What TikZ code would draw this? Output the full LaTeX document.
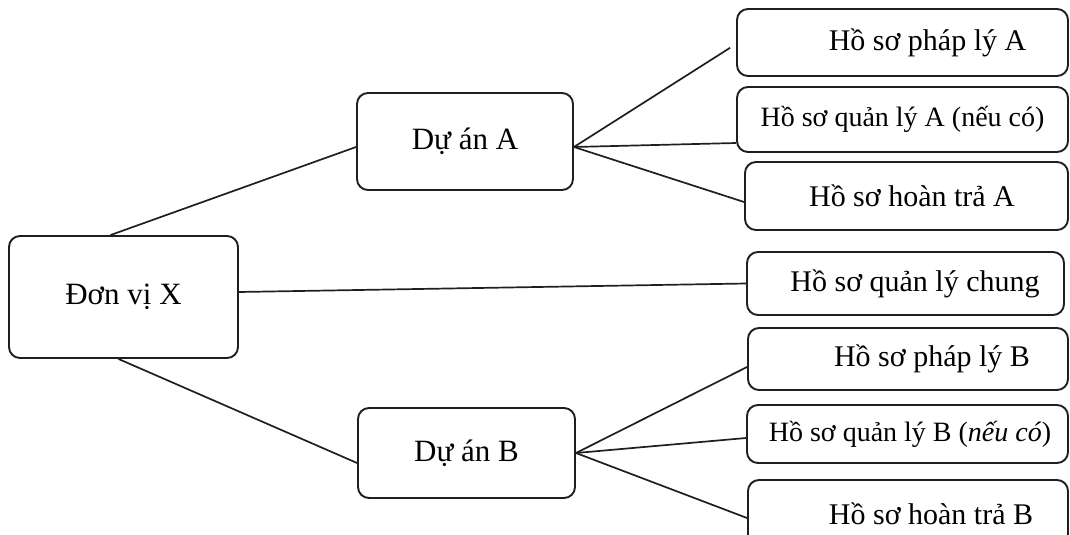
\documentclass[tikz,border=0pt]{standalone}
\usepackage{fontspec}
\setmainfont{Liberation Serif}
\begin{document}
\begin{tikzpicture}[x=1pt,y=-1pt,
  box/.style={draw=black!88,line width=1.9pt,rounded corners=11pt,inner sep=0pt,
    align=center,font=\fontsize{30}{32}\selectfont},
  mid/.style={box,font=\fontsize{31}{33}\selectfont},
  small/.style={font=\fontsize{28}{30}\selectfont},
  conn/.style={draw=black!88,line width=1.7pt}]
\useasboundingbox (0,0) rectangle (1070,535);
\clip (0,0) rectangle (1070,535);
% left and middle
\node[mid,minimum width=229pt,minimum height=122pt] (X) at (123.5,297) {Đơn vị X};
\node[mid,minimum width=216pt,minimum height=97pt] (A) at (465,141.5) {Dự án A};
\node[mid,minimum width=217pt,minimum height=90pt] (B) at (466.5,453) {Dự án B};
% right
\node[box,minimum width=331pt,minimum height=67pt] (b1) at (902.5,42.5) {\hspace*{50pt}Hồ sơ pháp lý A};
\node[box,small,minimum width=331pt,minimum height=65pt] (b2) at (902.5,119.5) {Hồ sơ quản lý A (nếu có)};
\node[box,minimum width=323pt,minimum height=68pt] (b3) at (906.5,196) {\hspace*{11pt}Hồ sơ hoàn trả A};
\node[box,minimum width=317pt,minimum height=63pt] (b4) at (905.5,283.5) {\hspace*{19pt}Hồ sơ quản lý chung};
\node[box,minimum width=320pt,minimum height=62pt] (b5) at (908,359) {\hspace*{48pt}Hồ sơ pháp lý B};
\node[box,small,minimum width=321pt,minimum height=58pt] (b6) at (907.5,434) {\hspace*{5pt}Hồ sơ quản lý B (\textit{nếu có})};
\node[box,minimum width=320pt,minimum height=68pt] (b7) at (908,514) {\hspace*{46pt}Hồ sơ hoàn trả B};
% connectors
\coordinate (fa) at ([yshift=-5.5pt]A.east);
\coordinate (fb) at (B.east);
\draw[conn] ([xshift=-13pt]X.north) -- ([yshift=-5.5pt]A.west);
\draw[conn] ([xshift=-5pt]X.south) -- ([yshift=-10pt]B.west);
\draw[conn] ([yshift=5pt]X.east) -- (b4.west);
\draw[conn,shorten >=7pt] (fa) -- ([yshift=-1.5pt]b1.west);
\draw[conn] (fa) -- ([yshift=-23.5pt]b2.west);
\draw[conn] (fa) -- ([yshift=-6pt]b3.west);
\draw[conn] (fb) -- ([yshift=-8pt]b5.west);
\draw[conn] (fb) -- ([yshift=-4pt]b6.west);
\draw[conn] (fb) -- ([yshift=-4pt]b7.west);
\end{tikzpicture}
\end{document}
